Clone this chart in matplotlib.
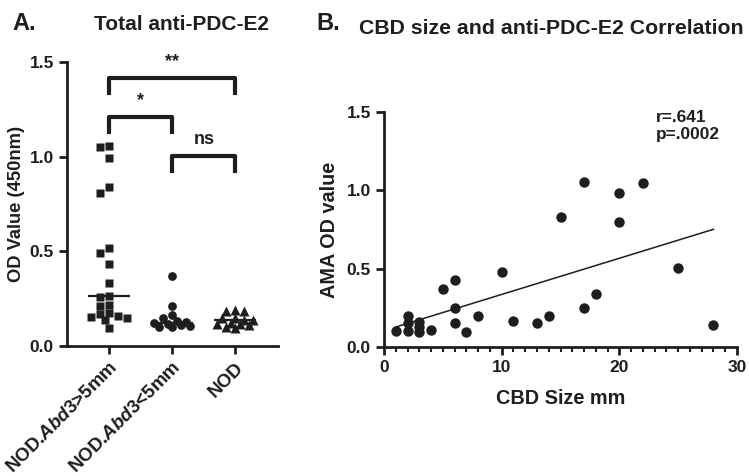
import numpy as np
import matplotlib
matplotlib.use("Agg")
import matplotlib.pyplot as plt

plt.rcParams['font.family'] = ['Liberation Sans', 'DejaVu Sans']
plt.rcParams['font.weight'] = 'bold'
plt.rcParams['axes.labelweight'] = 'bold'
plt.rcParams['axes.titleweight'] = 'bold'
plt.rcParams['mathtext.fontset'] = 'custom'
plt.rcParams['mathtext.rm'] = 'Liberation Sans:bold'
plt.rcParams['mathtext.it'] = 'Liberation Sans:italic:bold'

INK = '#1e1e1e'

# panel A data
groups = [r'NOD.$\mathit{Abd3}$>5mm', r'NOD.$\mathit{Abd3}$<5mm', 'NOD']
big = [1.055, 1.05, 0.99, 0.84, 0.81, 0.515, 0.49, 0.435, 0.335, 0.265,
       0.26, 0.215, 0.21, 0.175, 0.17, 0.16, 0.155, 0.15, 0.14, 0.095]
small = [0.37, 0.21, 0.165, 0.15, 0.13, 0.125, 0.12, 0.115, 0.11, 0.105, 0.10, 0.10]
nod = [0.19, 0.185, 0.185, 0.15, 0.148, 0.14, 0.135, 0.12, 0.115, 0.115, 0.11, 0.10, 0.095]
markers = ['s', 'o', '^']
sig = [(0, 2, 1.415, '**'), (0, 1, 1.21, '*'), (1, 2, 1.005, 'ns')]

# panel B data
cbd = [1, 2, 2, 2, 3, 3, 3, 4, 5, 6, 6, 6, 7, 8, 10, 11, 13, 14, 15, 17, 17,
       18, 20, 20, 22, 25, 28]
ama = [0.10, 0.20, 0.15, 0.10, 0.16, 0.125, 0.098, 0.11, 0.37, 0.43, 0.25, 0.15,
       0.096, 0.20, 0.48, 0.166, 0.15, 0.196, 0.83, 1.05, 0.25, 0.336, 0.985,
       0.80, 1.045, 0.504, 0.138]


def swarm(ax, xc, vals, diam, maxoff=18):
    # sideways spread of crowded points, in pixels, capped at maxoff
    t = ax.transData
    placed = []
    xs = []
    px0 = t.transform((xc, 0))[0]
    cands = [0]
    step = diam * 0.6
    k = 1
    while k * step <= maxoff:
        cands += [-k * step, k * step]
        k += 1
    for v in vals:
        py = t.transform((xc, v))[1]
        best, bestd = 0, -1
        for off in cands:
            d = min([np.hypot(off - a, py - b) for a, b in placed] + [1e9])
            if d >= diam:
                best = off
                break
            if d > bestd:
                best, bestd = off, d
        placed.append((best, py))
        xs.append(t.inverted().transform((px0 + best, py))[0])
    return xs


fig = plt.figure(figsize=(7.49, 4.76), dpi=100)

# ---- panel A ----
ax = fig.add_axes([0.0895, 0.273, 0.281, 0.597])
ax.set_xlim(-0.67, 2.67)
ax.set_ylim(0, 1.5)
for i, vals in enumerate([big, small, nod]):
    xs = swarm(ax, i, vals, 7.5)
    ax.plot(xs, vals, markers[i], color=INK, ms=6.3 if i != 2 else 7,
            mec='none', clip_on=False, zorder=3)
    ax.plot([i - 0.33, i + 0.33], [np.median(vals)] * 2, color=INK, lw=1.6,
            solid_capstyle='butt', zorder=4)
for a, b, h, lab in sig:
    ax.plot([a, a, b, b], [h - 0.08, h, h, h - 0.08], color=INK, lw=3,
            solid_joinstyle='round', clip_on=False)
    ax.text((a + b) / 2, h + 0.04, lab, ha='center', va='bottom', fontsize=13,
            color=INK)
ax.set_xticks(range(3))
ax.set_xticklabels(groups, rotation=45, ha='right', rotation_mode='anchor',
                   fontsize=13.5, color=INK)
ax.set_yticks([0, 0.5, 1.0, 1.5])
ax.set_yticklabels(['0.0', '0.5', '1.0', '1.5'], fontsize=12.5, color=INK)
ax.set_ylabel('OD Value (450nm)', fontsize=13.2, color=INK, labelpad=3)
for s in ['top', 'right']:
    ax.spines[s].set_visible(False)
for s in ['left', 'bottom']:
    ax.spines[s].set_linewidth(2)
    ax.spines[s].set_color(INK)
ax.tick_params(width=2, length=6, color=INK)

# ---- panel B ----
bx = fig.add_axes([0.5127, 0.271, 0.4713, 0.494])
bx.set_xlim(0, 30)
bx.set_ylim(0, 1.5)
bx.plot(cbd, ama, 'o', color=INK, ms=7.5, mec='none', clip_on=False, zorder=3)
slope, icpt = np.polyfit(cbd, ama, 1)
xl = np.array([min(cbd), max(cbd)])
bx.plot(xl, slope * xl + icpt, color=INK, lw=1.1)
bx.text(656, 476 - 110, 'r=.641\np=.0002', transform=None, fontsize=12.4,
        color=INK, va='top', linespacing=1.15)
bx.set_xticks([0, 10, 20, 30])
bx.set_xticks(range(31), minor=True)
bx.set_yticks([0, 0.5, 1.0, 1.5])
bx.set_yticklabels(['0.0', '0.5', '1.0', '1.5'], fontsize=12.5, color=INK)
bx.set_xticklabels(['0', '10', '20', '30'], fontsize=12.5, color=INK)
bx.set_xlabel('CBD Size mm', fontsize=14.3, color=INK, labelpad=10)
bx.set_ylabel('AMA OD value', fontsize=14.3, color=INK, labelpad=5)
for s in ['top', 'right']:
    bx.spines[s].set_visible(False)
for s in ['left', 'bottom']:
    bx.spines[s].set_linewidth(2)
    bx.spines[s].set_color(INK)
bx.tick_params(width=2, length=6, color=INK)
bx.tick_params(which='minor', width=1.5, length=3.5, color=INK)

fig.text(0.016, 0.975, 'A.', fontsize=17, color=INK, va='top')
fig.text(0.423, 0.975, 'B.', fontsize=17, color=INK, va='top')
fig.text(181 / 749, 1 - 25 / 476, 'Total anti-PDC-E2', fontsize=15, color=INK,
         ha='center', va='center')
fig.text(551 / 749, 1 - 28 / 476, 'CBD size and anti-PDC-E2 Correlation',
         fontsize=15.3, color=INK, ha='center', va='center')

fig.savefig('out.png', dpi=100)
